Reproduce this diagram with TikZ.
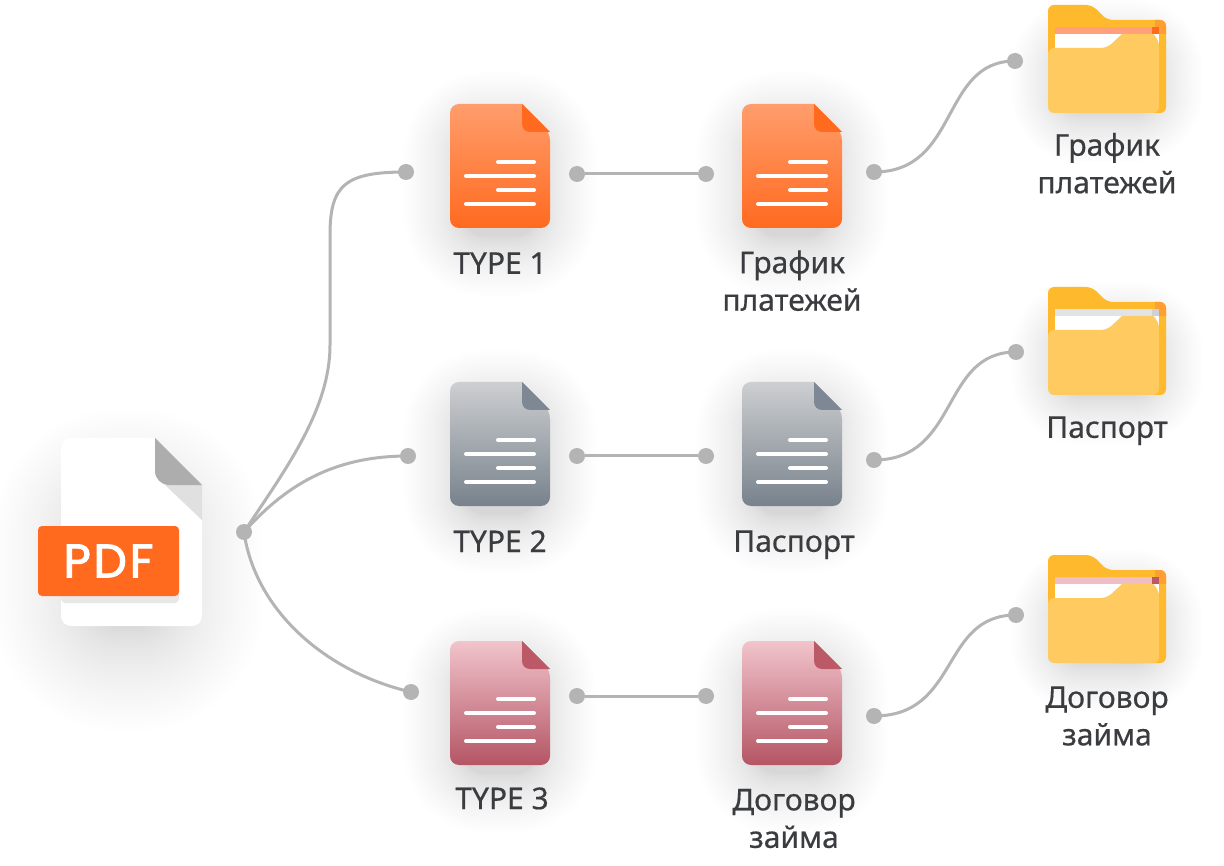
\documentclass[tikz,border=0pt]{standalone}
\usepackage{fontspec}
\setmainfont{Noto Sans}[RawFeature={embolden=0.5}]
\newfontfamily\pdffont{Poppins}[LetterSpace=6, RawFeature={embolden=2.2}]
\usetikzlibrary{positioning,calc}

\definecolor{wiregray}{HTML}{B4B4B4}
\definecolor{labelgray}{HTML}{3A3C3F}
\definecolor{pdforange}{HTML}{FF6A1F}
\definecolor{orangelight}{HTML}{FF9D6C}
\definecolor{graylight}{HTML}{CDCFD1}
\definecolor{graydark}{HTML}{78828C}
\definecolor{grayfold}{HTML}{7E8894}
\definecolor{redlight}{HTML}{F2C4CC}
\definecolor{reddark}{HTML}{B45564}
\definecolor{redfold}{HTML}{BB5A66}
\definecolor{orangestrip}{HTML}{FFA07A}
\definecolor{graystrip}{HTML}{E1E4E7}
\definecolor{grayend}{HTML}{CDD1D6}
\definecolor{redstrip}{HTML}{F0BFC6}
\definecolor{folderback}{HTML}{FFB92C}
\definecolor{folderfront}{HTML}{FFCB60}
\definecolor{foldercorner}{HTML}{FF9F33}

% soft shadow: #1 centre, #2 half width, #3 half height, #4 spread, #5 opacity
\newcommand{\softshadow}[5]{%
  \foreach \ring in {1,...,40}{
    \pgfmathsetmacro{\grow}{#4*(\ring/40)^1.6}
    \fill[black, opacity=#5, rounded corners=\grow pt+20pt]
      ($(#1)+(-#2-\grow,-#3-\grow)$) rectangle ($(#1)+(#2+\grow,#3+\grow)$);
  }}

% document icon: #1 name, #2 left, #3 top, #4 light, #5 dark, #6 fold
\newcommand{\docicon}[6]{%
  \softshadow{#2+50,#3+80}{36}{52}{60}{0.0022}
  \node[iconbox] (#1) at (#2+50,#3+62) {};
  \begin{scope}[shift={(#2,#3)}]
    \shade[top color=#4, bottom color=#5] (72,0) [rounded corners=9pt] -- (0,0) -- (0,124) -- (100,124) -- (100,28) [sharp corners] -- cycle;
    \fill[#6] (72,0) -- (100,28) -- (80,28) arc[start angle=90, end angle=180, radius=8] -- cycle;
    \draw[docline] (48,58) -- (84,58);
    \draw[docline] (16,72) -- (84,72);
    \draw[docline] (48,86) -- (84,86);
    \draw[docline] (16,100) -- (84,100);
  \end{scope}}

% folder icon: #1 name, #2 top, #3 paper strip, #4 strip end
\newcommand{\foldericon}[4]{%
  \softshadow{1107,#2+76}{46}{32}{50}{0.0022}
  \node[folderbox] (#1) at (1107,#2+54) {};
  \begin{scope}[shift={(1048,#2)}]
    \fill[folderback, rounded corners=6pt] (0,54) -- (0,0) -- (44,0) -- (59,15) -- (118,15) -- (118,108) -- (60,108) -- cycle;
    \fill[foldercorner] (107,15) -- (112,15) arc[start angle=-90, end angle=0, radius=6] -- (118,29) -- (111,29) -- (111,22) -- (107,22) -- cycle;
    \fill[white] (7,22) rectangle (111,50);
    \fill[#3] (7,22) rectangle (104,29);
    \fill[#4] (104,22) rectangle (111,29);
    \fill[folderfront, rounded corners=6pt] (0,108) -- (0,43) -- (59,43) [sharp corners] -- (74,29) -- (105,29) [rounded corners=6pt] -- (111,35) -- (111,108) -- cycle;
  \end{scope}}

\begin{document}
\begin{tikzpicture}[%
    x=1pt, y=-1pt,
    node distance=22pt,
    iconbox/.style={rectangle, minimum width=100pt, minimum height=124pt, inner sep=0pt},
    folderbox/.style={rectangle, minimum width=118pt, minimum height=108pt, inner sep=0pt},
    docline/.style={white, line width=4pt, line cap=round},
    wire/.style={wiregray, line width=3pt},
    dot/.style={circle, fill=wiregray, minimum size=16pt, inner sep=0pt},
    caption/.style={align=center, text=labelgray, font=\fontsize{30}{37.5}\selectfont, inner sep=0pt}
]
\useasboundingbox (0,0) rectangle (1224,866);
\fill[white] (0,0) rectangle (1224,866);

% Pdf file
\softshadow{128,570}{30}{56}{105}{0.0045}
\fill[white, rounded corners=10pt] (155,438) -- (61,438) -- (61,626) -- (202,626) -- (202,485) [sharp corners] -- cycle;
\fill[black!12] (165,485) -- (202,485) -- (202,520) -- cycle;
\fill[black!32] (155,438) -- (202,485) -- (169,485) arc[start angle=90, end angle=180, radius=14] -- cycle;
\fill[black!9, rounded corners=4pt] (61,590) -- (179,590) -- (179,603) -- (61,603) -- cycle;
\node[rectangle, fill=pdforange, rounded corners=4pt, minimum width=141pt, minimum height=70pt, inner sep=0pt,
      text=white, font=\pdffont\fontsize{47}{47}\selectfont] (pdf) at (108.5,561) {PDF};

% Documents
\docicon{typeone}{450}{104}{orangelight}{pdforange}{pdforange}
\docicon{typetwo}{450}{382}{graylight}{graydark}{grayfold}
\docicon{typethree}{450}{641}{redlight}{reddark}{redfold}
\docicon{payone}{742}{104}{orangelight}{pdforange}{pdforange}
\docicon{passone}{742}{382}{graylight}{graydark}{grayfold}
\docicon{loanone}{742}{641}{redlight}{reddark}{redfold}

% Folders
\foldericon{payfolder}{5}{orangestrip}{pdforange}
\foldericon{passfolder}{287}{graystrip}{grayend}
\foldericon{loanfolder}{555}{redstrip}{redfold}

% Labels
\node[caption, below=24pt of typeone] (typeonetext) {TYPE 1};
\node[caption, below=24pt of typetwo] (typetwotext) {TYPE 2};
\node[caption, below=of typethree, xshift=2pt] (typethreetext) {TYPE 3};
\node[caption, below=of payone] (payonetext) {График\\платежей};
\node[caption, below=24pt of passone, xshift=2pt] (passonetext) {Паспорт};
\node[caption, below=23.5pt of loanone, xshift=2pt] (loanonetext) {Договор\\займа};
\node[caption, below=19.5pt of payfolder] (payfoldertext) {График\\платежей};
\node[caption, below=21pt of passfolder] (passfoldertext) {Паспорт};
\node[caption, below=23pt of loanfolder] (loanfoldertext) {Договор\\займа};

% Dots
\node[dot] (source) at (244,532) {};
\node[dot] (outone) at (406,172) {};
\node[dot] (outtwo) at (408,456) {};
\node[dot] (outthree) at (411,692) {};
\node[dot] (midonea) at (577,174) {};
\node[dot] (midoneb) at (706,174) {};
\node[dot] (midtwoa) at (577,456) {};
\node[dot] (midtwob) at (706,456) {};
\node[dot] (midthreea) at (577,696) {};
\node[dot] (midthreeb) at (706,696) {};
\node[dot] (rightone) at (874,172) {};
\node[dot] (righttwo) at (874,460) {};
\node[dot] (rightthree) at (874,716) {};
\node[dot] (endone) at (1015,61) {};
\node[dot] (endtwo) at (1016,352) {};
\node[dot] (endthree) at (1016,615) {};

% Lines
\coordinate (bendlow) at (330,345);
\coordinate (bendhigh) at (330,235);
\draw[wire] (source.center) .. controls (285,470) and (330,410) .. (bendlow) -- (bendhigh)
  .. controls (330,185) and (345,172) .. (outone.center);
\draw[wire] (source.center) .. controls (290,480) and (340,456) .. (outtwo.center);
\draw[wire] (source.center) .. controls (255,610) and (325,672) .. (outthree.center);
\draw[wire] (midonea) -- (midoneb);
\draw[wire] (midtwoa) -- (midtwob);
\draw[wire] (midthreea) -- (midthreeb);
\draw[wire] (rightone.center) .. controls (960,172) and (940,61) .. (endone.center);
\draw[wire] (righttwo.center) .. controls (960,460) and (940,352) .. (endtwo.center);
\draw[wire] (rightthree.center) .. controls (960,716) and (940,615) .. (endthree.center);

\end{tikzpicture}
\end{document}
